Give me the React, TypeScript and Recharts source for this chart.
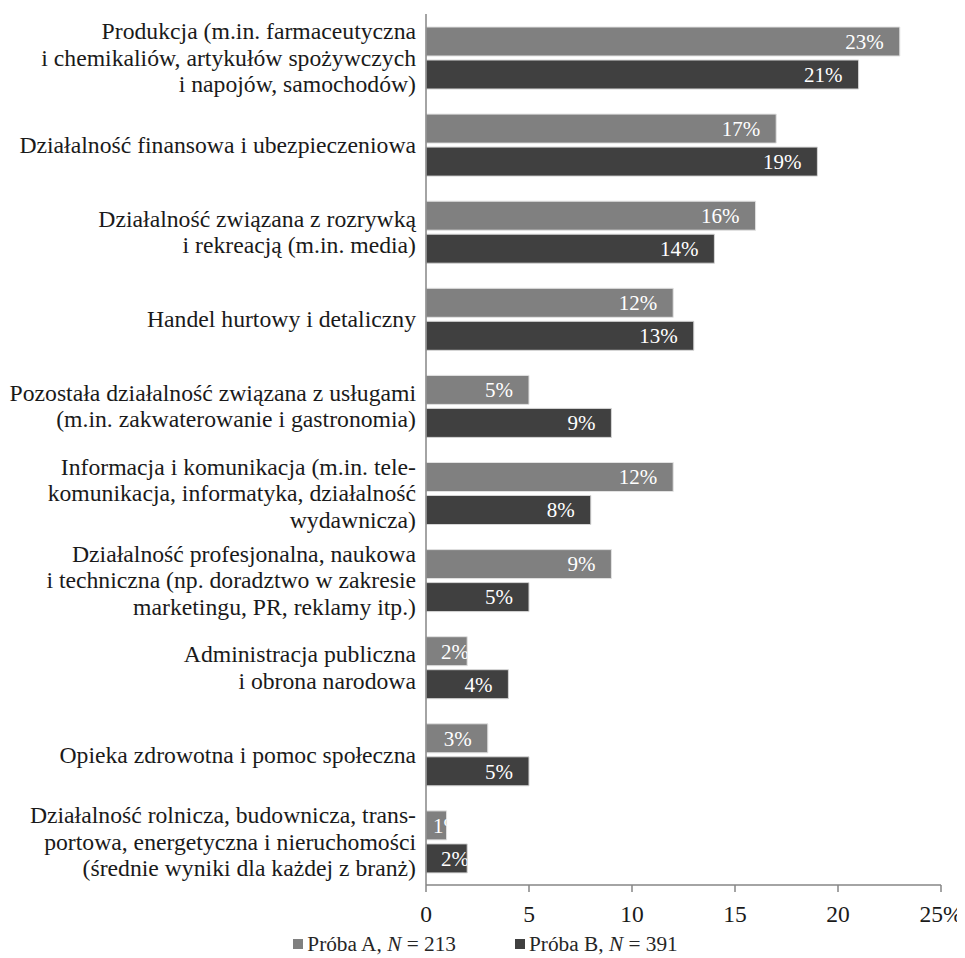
import { BarChart, Bar, XAxis, YAxis, Legend, LabelList } from 'recharts'

const FONT = '"Times New Roman", "Liberation Serif", serif'
const AXIS = '#868686'
const COLOR_A = '#808080'
const COLOR_B = '#404040'

// branch names, "\n" marks the line breaks used in the original
const categories = [
  'Produkcja (m.in. farmaceutyczna\ni chemikaliów, artykułów spożywczych\ni napojów, samochodów)',
  'Działalność finansowa i ubezpieczeniowa',
  'Działalność związana z rozrywką\ni rekreacją (m.in. media)',
  'Handel hurtowy i detaliczny',
  'Pozostała działalność związana z usługami\n(m.in. zakwaterowanie i gastronomia)',
  'Informacja i komunikacja (m.in. tele-\nkomunikacja, informatyka, działalność\nwydawnicza)',
  'Działalność profesjonalna, naukowa\ni techniczna (np. doradztwo w zakresie\nmarketingu, PR, reklamy itp.)',
  'Administracja publiczna\ni obrona narodowa',
  'Opieka zdrowotna i pomoc społeczna',
  'Działalność rolnicza, budownicza, trans-\nportowa, energetyczna i nieruchomości\n(średnie wyniki dla każdej z branż)',
]

const sampleA = [23, 17, 16, 12, 5, 12, 9, 2, 3, 1]
const sampleB = [21, 19, 14, 13, 9, 8, 5, 4, 5, 2]

const xTicks = [0, 5, 10, 15, 20, 25]
const boundaryTicks = [0, 1, 2, 3, 4, 5, 6, 7, 8, 9, 10]

const legendItems = [
  { name: 'Próba A', n: 213 },
  { name: 'Próba B', n: 391 },
]

const data = categories.map((name, i) => ({ name, a: sampleA[i], b: sampleB[i] }))

function CategoryTick(props: any) {
  const { x, y, payload } = props
  const lines = String(payload.value).split('\n')
  const lh = 26.5
  const start = y - ((lines.length - 1) * lh) / 2
  return (
    <text x={x} y={y} textAnchor="end" fill="#1a1a1a" fontSize={23.7} fontFamily={FONT}>
      {lines.map((line, i) => (
        <tspan key={i} x={x} y={start + i * lh} dy="0.35em">
          {line}
        </tspan>
      ))}
    </text>
  )
}

function makeLabel(series: string) {
  return (props: any) => {
    const { x, y, width, height, value, index } = props
    const id = `clip-${series}-${index}`
    let tx = x + width - 16
    let anchor: 'start' | 'end' = 'end'
    if (width < 30) {
      tx = x + 7
      anchor = 'start'
    } else if (width < 50) {
      tx = x + 15
      anchor = 'start'
    }
    return (
      <g>
        <defs>
          <clipPath id={id}>
            <rect x={x} y={y} width={width} height={height} />
          </clipPath>
        </defs>
        <text
          x={tx}
          y={y + height / 2}
          dy="0.35em"
          textAnchor={anchor}
          fill="#ffffff"
          fontSize={21}
          fontFamily={FONT}
          clipPath={`url(#${id})`}
        >
          {value}%
        </text>
      </g>
    )
  }
}

const colors = [COLOR_A, COLOR_B]

function renderLegend() {
  return (
    <div
      style={{
        display: 'flex',
        justifyContent: 'center',
        alignItems: 'center',
        height: 24,
        paddingLeft: 22,
        fontFamily: FONT,
        fontSize: 21.3,
        lineHeight: '24px',
        color: '#262626',
      }}
    >
      {legendItems.map((item, i) => (
        <span
          key={item.name}
          style={{ display: 'inline-flex', alignItems: 'center', marginRight: i === 0 ? 59 : 0 }}
        >
          <span style={{ width: 10, height: 10, background: colors[i], marginRight: 4 }} />
          <span style={{ whiteSpace: 'pre' }}>
            {item.name}, <i>N</i> = {item.n}
          </span>
        </span>
      ))}
    </div>
  )
}

export default function App() {
  return (
    <BarChart
      width={957}
      height={950}
      data={data}
      layout="vertical"
      margin={{ top: 6, right: 24, left: 0, bottom: 2 }}
      style={{ fontFamily: FONT }}
    >
      <YAxis
        yAxisId="a"
        type="number"
        domain={[0, 10]}
        ticks={boundaryTicks}
        tick={false}
        width={0}
        axisLine={false}
        tickLine={{ stroke: AXIS, strokeWidth: 1.5 }}
        tickSize={7}
      />
      <YAxis
        yAxisId="b"
        type="category"
        dataKey="name"
        width={418}
        interval={0}
        tick={<CategoryTick />}
        tickLine={false}
        tickSize={6}
        tickMargin={4}
        axisLine={{ stroke: AXIS, strokeWidth: 1.5 }}
      />
      <XAxis
        type="number"
        domain={[0, 25]}
        ticks={xTicks}
        height={47}
        tickFormatter={(v: number) => (v === 25 ? `${v}%` : `${v}`)}
        tick={{ fill: '#1a1a1a', fontSize: 23.5, fontFamily: FONT }}
        tickLine={{ stroke: AXIS, strokeWidth: 1.5 }}
        tickSize={7}
        tickMargin={13}
        axisLine={{ stroke: AXIS, strokeWidth: 1.5 }}
      />
      <Legend verticalAlign="bottom" content={renderLegend} />
      <Bar
        yAxisId="b"
        dataKey="a"
        name="Próba A"
        fill={COLOR_A}
        stroke="#e2e2e2"
        strokeWidth={1}
        barSize={29}
        isAnimationActive={false}
      >
        <LabelList dataKey="a" content={makeLabel('a')} />
      </Bar>
      <Bar
        yAxisId="b"
        dataKey="b"
        name="Próba B"
        fill={COLOR_B}
        stroke="#d6d6d6"
        strokeWidth={1}
        barSize={29}
        isAnimationActive={false}
      >
        <LabelList dataKey="b" content={makeLabel('b')} />
      </Bar>
    </BarChart>
  )
}
